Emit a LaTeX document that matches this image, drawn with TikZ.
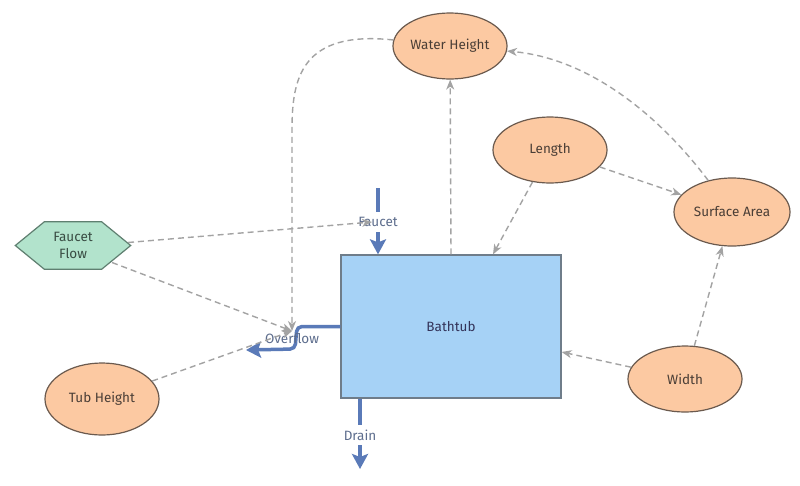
\documentclass[tikz,border=0pt]{standalone}
\usepackage{fontspec}
\setmainfont{Fira Sans}
\usetikzlibrary{shapes.geometric,arrows.meta}
\definecolor{peach}{HTML}{FCC9A2}
\definecolor{peachline}{HTML}{6B5A4E}
\definecolor{txt}{HTML}{4A3E36}
\definecolor{hexfill}{HTML}{B2E3CC}
\definecolor{hexline}{HTML}{5F7F70}
\definecolor{tubfill}{HTML}{A6D2F6}
\definecolor{tubline}{HTML}{6F7D8A}
\definecolor{flowc}{HTML}{5A7AB8}
\definecolor{flowtxt}{HTML}{5D6D8D}
\definecolor{dashc}{HTML}{A3A3A3}
\tikzset{
  varnode/.style={ellipse, draw=peachline, fill=peach, line width=1.2pt, minimum width=114pt, minimum height=66pt, inner sep=0pt, text=txt},
  link/.style={draw=dashc, line width=1.4pt, dash pattern=on 6pt off 4pt, -{Stealth[length=10pt,width=8pt,inset=3pt]}},
  flowline/.style={draw=flowc, line width=3.5pt},
  flowarrow/.style={draw=flowc, line width=3.5pt, -{Stealth[length=15pt,width=16pt,inset=3pt]}},
  flowlabel/.style={text=flowtxt, inner sep=1pt, minimum height=20pt},
}
\begin{document}
\begin{tikzpicture}[x=1pt,y=-1pt,font=\fontsize{13.5}{15}\selectfont]
\useasboundingbox[fill=white] (0,0) rectangle (800,485);

% stock
\node[draw=tubline, fill=tubfill, line width=1.3pt, minimum width=220pt, minimum height=143pt, inner sep=0pt, text=black!75!blue!60!gray] (bt) at (451,326.5) {Bathtub};

% variables
\node[varnode] (wh) at (450,46) {Water Height};
\node[varnode] (len) at (550,150) {Length};
\node[varnode, minimum width=116pt, minimum height=68pt] (sa) at (732,212) {Surface Area};
\node[varnode] (wd) at (685,379) {Width};
\node[varnode, minimum height=72pt] (th) at (102,399) {Tub Height};

% hexagon
\node[minimum width=115pt, minimum height=47pt, inner sep=0pt] (ff) at (73,245.5) {};
\draw[draw=hexline, fill=hexfill, line width=1.2pt]
  (ff.west) -- ([xshift=29pt]ff.north west) -- ([xshift=-29pt]ff.north east) -- (ff.east)
  -- ([xshift=-29pt]ff.south east) -- ([xshift=29pt]ff.south west) -- cycle;
\node[text=hexline!60!black, align=center, font=\fontsize{13.5}{17}\selectfont] at (ff.center) {Faucet\\Flow};

% flows
\coordinate (fsrc) at (378,188);
\node[flowlabel] (fl) at (378,222) {Faucet};
\draw[flowline] (fsrc) -- (fl.north);
\draw[flowarrow] (fl.south) -- (fsrc |- bt.north);

\node[flowlabel] (dr) at (360,435) {Drain};
\coordinate (dsink) at (360,469);
\draw[flowline] (bt.south -| dr) -- (dr.north);
\draw[flowarrow] (dr.south) -- (dsink);

\coordinate (ovsink) at (246,350);
\coordinate (ov) at (292,331);
\draw[flowarrow, rounded corners=5pt] (bt.west) -- (297,326.5) -- (295,349) -- (ovsink);
\node[flowlabel] (ovl) at (292,339) {Overflow};

% links
\draw[link] (wh) .. controls (300,30) and (292,80) .. (292,130) -- (ov);
\draw[link] ([shift={(39,17)}]ff.center) -- (ov);
\draw[link] (th) -- (ov);
\draw[link] ([shift={(55,-3)}]ff.center) -- ([xshift=-6pt]fl.center);
\draw[link] (bt.north) -- (wh);
\draw[link] (len) -- ([xshift=42pt]bt.north);
\draw[link] (len) -- (sa);
\draw[link] (sa) .. controls (655,110) and (585,58) .. (wh);
\draw[link] (wd) -- (sa);
\draw[link] (wd) -- ([yshift=-25.5pt]bt.east);
\end{tikzpicture}
\end{document}
